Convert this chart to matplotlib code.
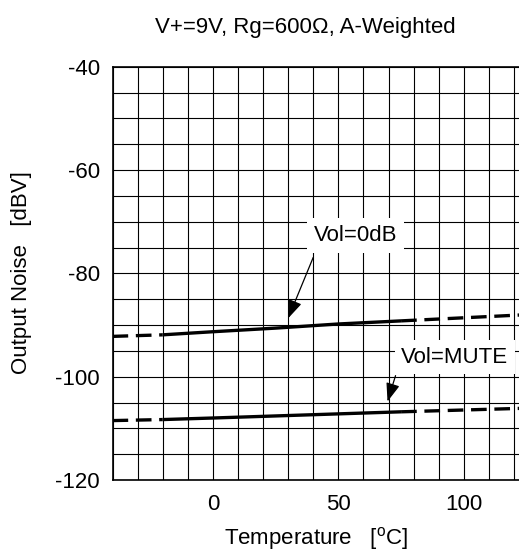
import matplotlib
matplotlib.use("Agg")
import matplotlib.pyplot as plt
from matplotlib.ticker import MultipleLocator, FixedLocator

plt.rcParams["font.family"] = ["Liberation Sans", "DejaVu Sans"]
plt.rcParams["mathtext.fontset"] = "custom"
plt.rcParams["mathtext.rm"] = "Liberation Sans"
plt.rcParams["axes.unicode_minus"] = False

# Output noise vs. ambient temperature
temperature = [-40, -20, 0, 25, 50, 75, 125]
noise_vol_0db = [-92.2, -91.9, -91.3, -90.6, -89.8, -89.2, -88.0]
noise_vol_mute = [-108.5, -108.3, -108.0, -107.6, -107.2, -106.8, -106.1]
# guaranteed (solid) temperature range; outside it the curve is dashed
solid_range = (-20, 75)

x_ticks = [0, 50, 100]
y_ticks = [-120, -100, -80, -60, -40]

FS = 16

fig = plt.figure(figsize=(5.19, 5.53), dpi=100)
ax = fig.add_axes([0.2168, 0.132, 0.7832, 0.7474])

ax.set_xlim(-40, 122)
ax.set_ylim(-120, -40)

ax.xaxis.set_major_locator(FixedLocator(x_ticks))
ax.xaxis.set_minor_locator(MultipleLocator(10))
ax.yaxis.set_major_locator(FixedLocator(y_ticks))
ax.yaxis.set_minor_locator(MultipleLocator(5))
ax.grid(True, which="both", color="black", linewidth=0.8)
ax.set_axisbelow(True)
ax.tick_params(axis="both", which="both", length=0, labelsize=FS)
ax.tick_params(axis="y", pad=9)
ax.tick_params(axis="x", pad=10)

for side in ("left", "bottom", "top"):
    ax.spines[side].set_linewidth(1.2)
ax.spines["right"].set_visible(False)


def draw_curve(t, v):
    lo, hi = solid_range
    left = [(a, b) for a, b in zip(t, v) if a <= lo]
    mid = [(a, b) for a, b in zip(t, v) if lo <= a <= hi]
    right = [(a, b) for a, b in zip(t, v) if a >= hi]
    style = dict(color="black", linewidth=2.4, solid_capstyle="butt", zorder=3)
    for seg in (left, right):
        xs, ys = zip(*seg)
        ax.plot(xs, ys, linestyle=(0, (4.7, 2.3)), dash_capstyle="butt", **style)
    xs, ys = zip(*mid)
    ax.plot(xs, ys, linestyle="-", **style)


draw_curve(temperature, noise_vol_0db)
draw_curve(temperature, noise_vol_mute)

box = dict(boxstyle="square,pad=0.3", facecolor="white", edgecolor="none")
arrow = dict(arrowstyle="-|>,head_length=0.75,head_width=0.28", color="black",
             linewidth=0.9, mutation_scale=15, shrinkA=0, shrinkB=0)

ax.text(56.8, -72.7, "Vol=0dB", fontsize=FS, ha="center", va="center", bbox=box, zorder=4)
ax.annotate("", xy=(30, -88.7), xytext=(40, -76.9), arrowprops=arrow, zorder=5)

ax.text(96.4, -96.2, "Vol=MUTE", fontsize=FS, ha="center", va="center", bbox=box, zorder=4)
ax.annotate("", xy=(69.6, -104.8), xytext=(72.8, -99.8), arrowprops=arrow, zorder=5)

fig.text(305 / 519, 1 - 27 / 553, "V+=9V, Rg=600\u03a9, A-Weighted", fontsize=FS,
         ha="center", va="center")
fig.text(316 / 519, 1 - 539 / 553, r"Temperature   [$^{\mathrm{o}}$C]", fontsize=FS,
         ha="center", va="center")
fig.text(22 / 519, 1 - 273 / 553, "Output Noise   [dBV]", fontsize=FS,
         ha="center", va="center", rotation=90)

fig.savefig("out.png", dpi=100)
